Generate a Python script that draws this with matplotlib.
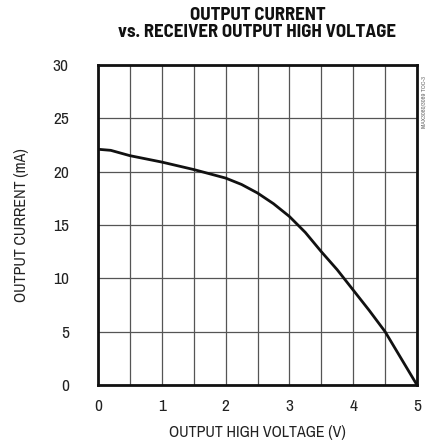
import matplotlib
matplotlib.use("Agg")
import matplotlib.pyplot as plt
from matplotlib import font_manager as fm
import numpy as np

# values
voltage = [0.0, 0.2, 0.5, 1.0, 1.5, 2.0, 2.25, 2.5, 2.75, 3.0, 3.25, 3.5, 3.75, 4.0, 4.25, 4.5, 4.75, 5.0]
current = [22.1, 22.0, 21.5, 20.9, 20.2, 19.4, 18.8, 18.0, 17.0, 15.8, 14.3, 12.5, 10.8, 8.9, 7.0, 5.0, 2.5, 0.0]

x_ticks = [0, 1, 2, 3, 4, 5]
y_ticks = [0, 5, 10, 15, 20, 25, 30]

title_lines = ["OUTPUT CURRENT", "vs. RECEIVER OUTPUT HIGH VOLTAGE"]

# narrow faces, the reference is set in a condensed grotesk
have = {f.name for f in fm.fontManager.ttflist}
body = next((n for n in ["Archivo Narrow", "Roboto Condensed", "Barlow Semi Condensed",
                         "Asap Condensed", "Encode Sans Condensed"] if n in have), "DejaVu Sans")
head = next((n for n in ["Barlow Semi Condensed", "Roboto Condensed", "Asap Condensed",
                         "Archivo Narrow"] if n in have), body)
plt.rcParams["font.family"] = [body, "DejaVu Sans"]

fig = plt.figure(figsize=(4.30, 4.46), dpi=100)
ax = fig.add_axes([98 / 430, 1 - 385 / 446, 319 / 430, 320 / 446])

ax.plot(voltage, current, color="#111111", lw=2.0, solid_capstyle="round")

ax.set_xlim(0, 5)
ax.set_ylim(0, 30)
ax.set_xticks(x_ticks)
ax.set_yticks(y_ticks)
ax.set_xticks(np.arange(0, 5.01, 0.5), minor=True)
ax.grid(which="both", axis="x", color="#555555", lw=0.9)
ax.grid(which="major", axis="y", color="#555555", lw=0.9)
ax.tick_params(which="both", length=0, labelsize=12.5, colors="#222222")
ax.tick_params(axis="y", pad=21)
ax.tick_params(axis="x", pad=10)
for s in ax.spines.values():
    s.set_linewidth(2.0)
    s.set_color("#111111")

ax.set_xlabel("OUTPUT HIGH VOLTAGE (V)", fontsize=11.5, labelpad=8, color="#222222")
ax.set_ylabel("OUTPUT CURRENT (mA)", fontsize=11.5, labelpad=17, color="#222222")

t1 = fig.text(257.5 / 430, 1 - 20 / 446, title_lines[0], ha="center", va="baseline",
              fontsize=13, fontweight="bold", family=[head, "DejaVu Sans"], color="#111111")
t2 = fig.text(257.5 / 430, 1 - 37 / 446, title_lines[1], ha="center", va="baseline",
              fontsize=13, fontweight="bold", family=[head, "DejaVu Sans"], color="#111111")
fig.text(424 / 430, 1 - 102 / 446, "MAX3080/3089 TOC-3", rotation=90,
         ha="center", va="center", fontsize=4.5, color="#666666")

# fit the title to the width it has in the reference, but keep the lines apart
r = fig.canvas.get_renderer()
size = min(13 * 306 / t2.get_window_extent(r).width, 13.5)
t1.set_fontsize(size)
t2.set_fontsize(size)

fig.savefig("out.png", dpi=100)
